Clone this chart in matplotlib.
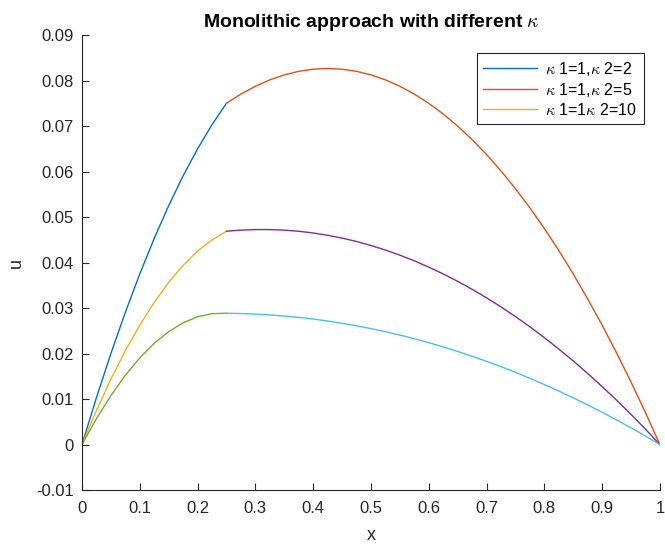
import matplotlib
matplotlib.use("Agg")
import matplotlib.pyplot as plt

plt.rcParams['font.family'] = ['Liberation Sans', 'DejaVu Sans']
plt.rcParams['mathtext.fontset'] = 'cm'

# left sub-domain x in [0, 0.25]
x_left = [0, 0.025, 0.05, 0.075, 0.1, 0.125, 0.15, 0.175, 0.2, 0.225, 0.25]
# right sub-domain x in [0.25, 1]
x_right = [0.25, 0.275, 0.30, 0.325, 0.35, 0.375, 0.40, 0.425, 0.45, 0.475,
           0.50, 0.525, 0.55, 0.575, 0.60, 0.625, 0.65, 0.675, 0.70, 0.725,
           0.75, 0.775, 0.80, 0.825, 0.85, 0.875, 0.90, 0.925, 0.95, 0.975, 1.00]

u_k2_left = [0, 0.01031, 0.0200, 0.02906, 0.0375, 0.04531, 0.0525, 0.05906,
             0.0650, 0.07031, 0.0750]
u_k2_right = [0.0750, 0.07703, 0.07875, 0.08016, 0.08125, 0.08203, 0.0825, 0.08266,
              0.0825, 0.08203, 0.08125, 0.08016, 0.07875, 0.07703, 0.0750, 0.07266,
              0.0700, 0.06703, 0.06375, 0.06016, 0.05625, 0.05203, 0.0475, 0.04266,
              0.0375, 0.03203, 0.02625, 0.02016, 0.01375, 0.00703, 0]

u_k5_left = [0, 0.0075, 0.01438, 0.02063, 0.02625, 0.03125, 0.03563, 0.03938,
             0.0425, 0.0450, 0.04688]
u_k5_right = [0.04688, 0.04713, 0.04725, 0.04725, 0.04713, 0.04688, 0.0465, 0.0460,
              0.04538, 0.04463, 0.04375, 0.04275, 0.04163, 0.04038, 0.0390, 0.0375,
              0.03588, 0.03413, 0.03225, 0.03025, 0.02813, 0.02588, 0.0235, 0.0210,
              0.01838, 0.01563, 0.01275, 0.00975, 0.00663, 0.00338, 0]

u_k10_left = [0, 0.0057, 0.01077, 0.01522, 0.01904, 0.02224, 0.02481, 0.02676,
              0.02808, 0.02877, 0.02885]
u_k10_right = [0.02885, 0.02879, 0.02867, 0.02849, 0.02825, 0.02795, 0.02758, 0.02715,
               0.02665, 0.0261, 0.02548, 0.0248, 0.02406, 0.02325, 0.02239, 0.02146,
               0.02046, 0.01941, 0.01829, 0.01711, 0.01587, 0.01456, 0.01319, 0.01176,
               0.01027, 0.00871, 0.0071, 0.00542, 0.00367, 0.00187, 0]

labels = [r'$\kappa$ 1=1,$\kappa$ 2=2', r'$\kappa$ 1=1,$\kappa$ 2=5', r'$\kappa$ 1=1$\kappa$ 2=10']
colors = ['#0072BD', '#D95319', '#EDB120', '#7E2F8E', '#77AC30', '#4DBEEE']

fig = plt.figure(figsize=(6.65, 5.48), dpi=100)
ax = fig.add_axes([0.1233, 0.1058, 0.869, 0.8302])

lines = []
lines += ax.plot(x_left, u_k2_left, color=colors[0], lw=1.0)
lines += ax.plot(x_right, u_k2_right, color=colors[1], lw=1.0)
lines += ax.plot(x_left, u_k5_left, color=colors[2], lw=1.0)
ax.plot(x_right, u_k5_right, color=colors[3], lw=1.0)
ax.plot(x_left, u_k10_left, color=colors[4], lw=1.0)
ax.plot(x_right, u_k10_right, color=colors[5], lw=1.0)

ax.set_xlim(0, 1)
ax.set_ylim(-0.01, 0.09)
xt = [0, 0.1, 0.2, 0.3, 0.4, 0.5, 0.6, 0.7, 0.8, 0.9, 1]
yt = [-0.01, 0, 0.01, 0.02, 0.03, 0.04, 0.05, 0.06, 0.07, 0.08, 0.09]
ax.set_xticks(xt)
ax.set_xticklabels(['0', '0.1', '0.2', '0.3', '0.4', '0.5', '0.6', '0.7', '0.8', '0.9', '1'])
ax.set_yticks(yt)
ax.set_yticklabels(['-0.01', '0', '0.01', '0.02', '0.03', '0.04', '0.05', '0.06', '0.07', '0.08', '0.09'])

for s in ['top', 'right']:
    ax.spines[s].set_visible(False)
for s in ['left', 'bottom']:
    ax.spines[s].set_color('#262626')
    ax.spines[s].set_linewidth(0.8)
ax.tick_params(direction='in', length=5, width=0.8, colors='#262626', labelsize=12)
ax.tick_params(axis='x', pad=8)
ax.tick_params(axis='y', pad=6)

ax.set_xlabel('x', fontsize=13, color='#262626', labelpad=8)
ax.set_ylabel('u', fontsize=13, color='#262626', labelpad=8)
ax.set_title(r'Monolithic approach with different $\kappa$', fontsize=14,
             fontweight='bold', pad=6)

leg = ax.legend(lines, labels, loc='upper right', bbox_to_anchor=(0.972, 0.960),
                fontsize=11.5, frameon=True, fancybox=False, framealpha=1,
                edgecolor='#262626', handlelength=3.4, borderpad=0.4,
                labelspacing=0.2, handletextpad=0.5, borderaxespad=0)
leg.get_frame().set_linewidth(0.8)

fig.savefig('out.png', dpi=100)
